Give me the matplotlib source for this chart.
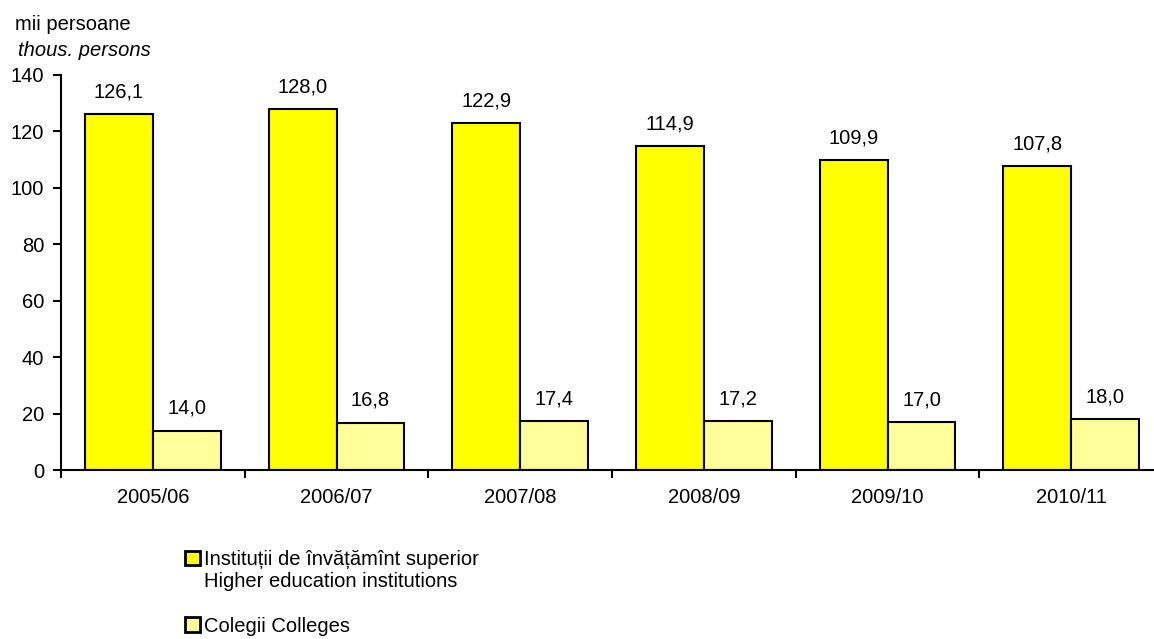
import matplotlib.pyplot as plt
from matplotlib.patches import Rectangle
import numpy as np

plt.rcParams['font.family'] = ['Liberation Sans', 'DejaVu Sans']

years = ["2005/06", "2006/07", "2007/08", "2008/09", "2009/10", "2010/11"]
higher_ed = [126.1, 128.0, 122.9, 114.9, 109.9, 107.8]
colleges = [14.0, 16.8, 17.4, 17.2, 17.0, 18.0]
labels = ["Instituții de învățămînt superior", "Higher education institutions", " ", "Colegii Colleges"]

fs = 14.5
fig = plt.figure(figsize=(11.54, 6.39), dpi=100)
ax = fig.add_axes([61/1154, 1 - 470/639, 1102/1154, 395/639])

x = np.arange(len(years))
w = 0.37
b1 = ax.bar(x - w/2, higher_ed, w, color='#FFFF00', edgecolor='black', linewidth=1.5)
b2 = ax.bar(x + w/2, colleges, w, color='#FFFF99', edgecolor='black', linewidth=1.5)

for bars, vals in ((b1, higher_ed), (b2, colleges)):
    for r, v in zip(bars, vals):
        ax.annotate(f"{v:.1f}".replace('.', ','), (r.get_x() + r.get_width()/2, v),
                    xytext=(0, 16), textcoords='offset points',
                    ha='center', va='center', fontsize=fs)

ax.set_xlim(-0.5, len(years) - 0.5)
ax.set_ylim(0, 140)
ax.set_yticks(range(0, 141, 20))
ax.set_xticks(x)
ax.set_xticklabels(years)
ax.set_xticks(np.arange(-0.5, len(years), 1), minor=True)
ax.tick_params(axis='x', which='major', length=0, pad=13, labelsize=fs)
ax.tick_params(axis='x', which='minor', length=6, width=1.5, direction='out')
ax.tick_params(axis='y', length=6, width=1.5, labelsize=fs, pad=6)
for s in ('top', 'right'):
    ax.spines[s].set_visible(False)
for s in ('left', 'bottom'):
    ax.spines[s].set_linewidth(1.5)

fig.text(15/1154, 1 - 24/639, "mii persoane", fontsize=fs, va='center')
fig.text(18/1154, 1 - 50/639, "thous. persons", fontsize=fs, va='center', style='italic')

blank = Rectangle((0, 0), 1, 1, fill=False, edgecolor='none')
leg = fig.legend([b1, blank, blank, b2], labels, loc='upper left',
                 bbox_to_anchor=(185/1154, 1 - 550/639),
                 frameon=False, fontsize=fs, handlelength=0.75, handleheight=0.75,
                 handletextpad=0.2, labelspacing=0.16, borderaxespad=0, borderpad=0)
for h in leg.legend_handles:
    if h.get_edgecolor()[3] > 0:
        h.set_linewidth(2)

fig.savefig("out.png", dpi=100)
